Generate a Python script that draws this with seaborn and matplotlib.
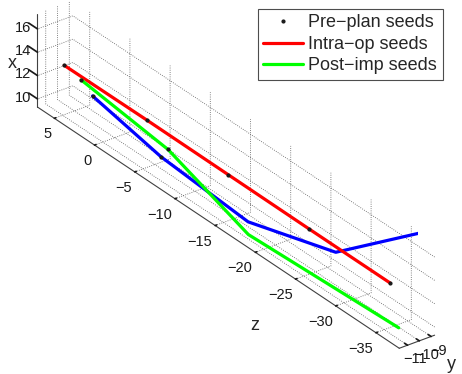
import numpy as np
import seaborn as sns
import matplotlib.pyplot as plt
from matplotlib.lines import Line2D

# needle tracks (data x is the vertical axis, z runs along the long edge)
red_z = [7.0, -3.3, -13.4, -23.5, -33.5]
red_x = [12.1, 12.13, 12.1, 12.07, 12.07]
red_y = [-9.5, -9.5, -9.5, -9.5, -9.5]

green_z = [2.4, -8.4, -18.4, -37.1]
green_x = [13.6, 12.6, 9.9, 10.5]
green_y = [-11.2, -11.2, -11.2, -11.2]

blue_z = [0.25, -8.25, -19.1, -30.0, -36.2]
blue_x = [13.4, 12.1, 11.5, 13.9, 17.3]
blue_y = [-11.7, -11.7, -11.7, -11.7, -8.7]

# pre-plan seed positions
seed_z = [7.0, -3.3, -13.4, -23.5, -33.5, 2.4, -8.4, 0.25, -8.25]
seed_x = [12.1, 12.13, 12.1, 12.07, 12.07, 13.6, 12.6, 13.4, 12.1]
seed_y = [-9.5, -9.5, -9.5, -9.5, -9.5, -11.2, -11.2, -11.7, -11.7]

z_ticks = [-35, -30, -25, -20, -15, -10, -5, 0, 5]
x_ticks = [10, 12, 14, 16]
y_ticks = [-11, -10, -9]

sns.set_theme(style="white")
plt.rcParams['font.family'] = ['Liberation Sans', 'DejaVu Sans']

fig = plt.figure(figsize=(4.62, 3.74), dpi=100)
ax = fig.add_axes([0, 0.02, 1, 1], projection='3d', proj_type='ortho')

ax.plot(blue_z, blue_y, blue_x, color=(0, 0, 1), lw=2.3)
ax.plot(red_z, red_y, red_x, color=(1, 0, 0), lw=2.3)
ax.plot(green_z, green_y, green_x, color=(0, 1, 0), lw=2.3)
ax.plot(seed_z, seed_y, seed_x, '.', color='k', ms=4)

ax.set_xlim(-37.9, 7.1)
ax.set_ylim(-8.7, -11.7)
ax.set_zlim(9.3, 17.3)
ax.set_xticks(z_ticks)
ax.set_yticks(y_ticks)
ax.set_zticks(x_ticks)

ax.view_init(elev=29.8, azim=143.3)
ax.set_box_aspect((5.63, 0.41, 1.0), zoom=1.6)
ax.zaxis.set_ticks_position('lower')

for axis in (ax.xaxis, ax.yaxis, ax.zaxis):
    axis.set_pane_color((1, 1, 1, 0))
    axis.pane.set_edgecolor((1, 1, 1, 0))
    axis.line.set_color('0.25')
    axis.line.set_linewidth(0.8)
    axis._axinfo['grid'].update(color='0.35', linestyle=':', linewidth=0.6)
    axis._axinfo['tick'].update(inward_factor=0.0, outward_factor=0.5)
    axis.set_tick_params(labelsize=10.5, colors='0.1', pad=0)
ax.yaxis._axinfo['tick'].update(outward_factor=0.1)
ax.zaxis._axinfo['tick'].update(outward_factor=0.3)
ax.yaxis.set_tick_params(pad=-5)
ax.zaxis.set_tick_params(pad=-3)
ax.xaxis.set_tick_params(pad=4)
plt.setp(ax.get_xticklabels(), ha='right')

# axis names, placed where the original figure has them
ax.text2D(0.027, 0.83, 'x', transform=fig.transFigure, fontsize=13, ha='center', va='center')
ax.text2D(0.552, 0.13, 'z', transform=fig.transFigure, fontsize=13, ha='center', va='center')
ax.text2D(0.978, 0.025, 'y', transform=fig.transFigure, fontsize=13, ha='center', va='center')

handles = [
    Line2D([], [], marker='.', color='k', ls='none', ms=4),
    Line2D([], [], color=(1, 0, 0), lw=2.3),
    Line2D([], [], color=(0, 1, 0), lw=2.3),
]
leg = fig.legend(handles, ['Pre\u2212plan seeds', 'Intra\u2212op seeds', 'Post\u2212imp seeds'],
                 loc='upper right', bbox_to_anchor=(0.958, 0.976), fontsize=13,
                 fancybox=False, framealpha=1, edgecolor='0.3', borderpad=0.3,
                 labelspacing=0.25, handlelength=2.2, handletextpad=0.3, borderaxespad=0)
leg.get_frame().set_linewidth(0.8)

fig.savefig('out.png', dpi=100)
